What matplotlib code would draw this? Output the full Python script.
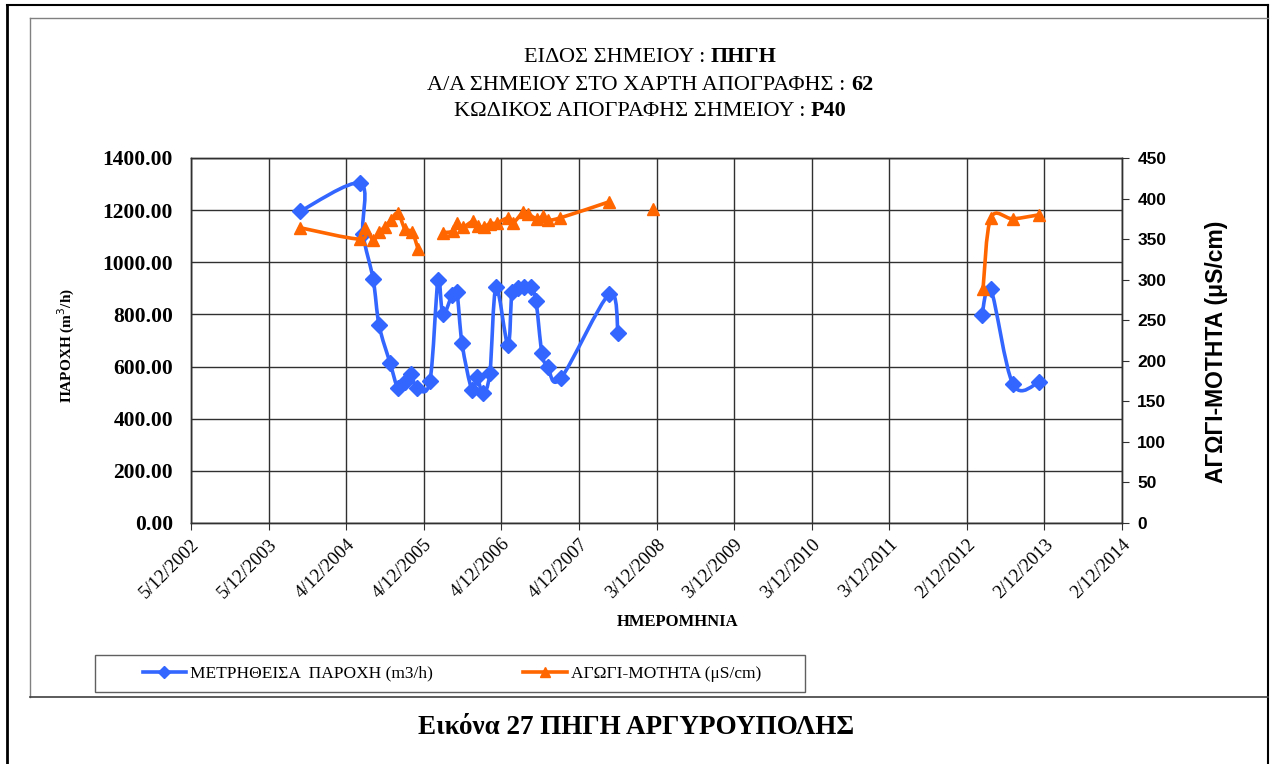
import numpy as np
import matplotlib
matplotlib.use("Agg")
import matplotlib.pyplot as plt
import matplotlib.dates as mdates
from matplotlib.path import Path
from matplotlib.patches import PathPatch, Rectangle
from matplotlib.lines import Line2D
from datetime import datetime

plt.rcParams['font.family'] = ['Liberation Serif', 'DejaVu Serif']

# flow (m3/h) - None breaks the line
flow_dates = ['2004-05-02', '2005-02-07', '2005-02-21', '2005-04-10', '2005-05-08',
              '2005-06-29', '2005-08-05', '2005-09-07', '2005-10-05', '2005-11-02',
              '2006-01-02', '2006-02-09', '2006-03-04', '2006-04-16', '2006-05-09',
              '2006-06-02', '2006-07-19', '2006-08-11', '2006-09-08', '2006-10-11',
              '2006-11-09', '2007-01-04', '2007-01-23', '2007-02-20', '2007-03-20',
              '2007-04-22', '2007-05-16', '2007-06-13', '2007-07-11', '2007-09-10',
              '2008-04-24', '2008-06-05', None,
              '2013-02-11', '2013-03-25', '2013-07-07', '2013-11-07']
flow = [1196, 1303, 1110, 935, 758,
        613, 517, 540, 570, 517,
        544, 931, 800, 873, 885,
        689, 509, 559, 498, 575,
        904, 682, 885, 900, 904,
        904, 850, 651, 598, 555,
        877, 728, None,
        797, 896, 532, 540]

# conductivity (uS/cm)
cond_dates = ['2004-05-02', '2005-02-07', '2005-03-03', '2005-04-10', '2005-05-08',
              '2005-06-05', '2005-07-03', '2005-08-05', '2005-09-07', '2005-10-10',
              '2005-11-07', None,
              '2006-03-04', '2006-04-21', '2006-05-09', '2006-06-07', '2006-07-24',
              '2006-08-16', '2006-09-13', '2006-10-11', '2006-11-13', '2007-01-04',
              '2007-01-28', '2007-03-16', '2007-04-08', '2007-05-21', '2007-06-18',
              '2007-07-11', '2007-09-05', '2008-04-24', None,
              '2008-11-17', None,
              '2013-02-16', '2013-03-25', '2013-07-07', '2013-11-07']
cond = [364, 350, 364, 349, 359,
        365, 374, 382, 362, 359,
        338, None,
        358, 360, 370, 365, 372,
        366, 365, 369, 370, 376,
        370, 383, 381, 375, 378,
        374, 376, 396, None,
        387, None,
        288, 376, 375, 380]

x_tick_labels = ['5/12/2002', '5/12/2003', '4/12/2004', '4/12/2005', '4/12/2006',
                 '4/12/2007', '3/12/2008', '3/12/2009', '3/12/2010', '3/12/2011',
                 '2/12/2012', '2/12/2013', '2/12/2014']
flow_ticks = [0, 200, 400, 600, 800, 1000, 1200, 1400]
cond_ticks = [0, 50, 100, 150, 200, 250, 300, 350, 400, 450]

title_lines = [('ΕΙΔΟΣ ΣΗΜΕΙΟΥ : ', 'ΠΗΓΗ'),
               ('Α/Α ΣΗΜΕΙΟΥ ΣΤΟ ΧΑΡΤΗ ΑΠΟΓΡΑΦΗΣ : ', '62'),
               ('ΚΩΔΙΚΟΣ ΑΠΟΓΡΑΦΗΣ ΣΗΜΕΙΟΥ : ', 'P40')]
flow_label = 'ΜΕΤΡΗΘΕΙΣΑ  ΠΑΡΟΧΗ (m3/h)'
cond_label = 'ΑΓΩΓΙ-ΜΟΤΗΤΑ (μS/cm)'
caption = 'Εικόνα 27 ΠΗΓΗ ΑΡΓΥΡΟΥΠΟΛΗΣ'

BLUE = '#3366FF'
ORANGE = '#FF6600'

W, H = 1272, 764


def fx(px):
    return px / W


def fy(py):
    return 1 - py / H


def segments(dates, vals):
    segs, cur = [], []
    for d, v in zip(dates, vals):
        if d is None or v is None:
            if cur:
                segs.append(cur)
            cur = []
        else:
            cur.append((mdates.date2num(datetime.strptime(d, '%Y-%m-%d')), v))
    if cur:
        segs.append(cur)
    return [np.array(s, dtype=float) for s in segs]


def smooth_path(p):
    # Excel-like smoothed line: Catmull-Rom turned into cubic Bezier pieces
    verts = [p[0]]
    codes = [Path.MOVETO]
    n = len(p)
    for i in range(n - 1):
        p0 = p[i - 1] if i > 0 else p[i]
        p3 = p[i + 2] if i + 2 < n else p[i + 1]
        c1 = p[i] + (p[i + 1] - p0) / 6.0
        c2 = p[i + 1] - (p3 - p[i]) / 6.0
        verts += [c1, c2, p[i + 1]]
        codes += [Path.CURVE4] * 3
    return Path(verts, codes)


def draw_series(ax, dates, vals, color, marker, ms):
    for s in segments(dates, vals):
        if len(s) > 1:
            ax.add_patch(PathPatch(smooth_path(s), facecolor='none', edgecolor=color,
                                   lw=2.6, zorder=3, capstyle='round', joinstyle='round'))
        ax.plot(s[:, 0], s[:, 1], linestyle='none', marker=marker, ms=ms,
                color=color, mec=color, zorder=4)


fig = plt.figure(figsize=(12.72, 7.64), dpi=100)

# page frame
for xs, ys, c, lw in [([7, 7], [5, 764], 'black', 2.0),
                      ([7, 1268], [5, 5], 'black', 1.5),
                      ([1268, 1268], [5, 764], 'black', 1.5),
                      ([30, 30], [18, 697], '#808080', 1.0),
                      ([30, 1268], [18, 18], '#808080', 1.0),
                      ([30, 1268], [697, 697], '#404040', 1.2)]:
    fig.add_artist(Line2D([fx(x) for x in xs], [fy(y) for y in ys],
                          transform=fig.transFigure, color=c, lw=lw))

ax = fig.add_axes([fx(191), fy(523), fx(1122 - 191), (523 - 158) / H])
ax2 = ax.twinx()

xt = [mdates.date2num(datetime.strptime(t, '%d/%m/%Y')) for t in x_tick_labels]
ax.set_xlim(xt[0], xt[-1])
ax.set_xticks(xt)
ax.set_xticklabels(x_tick_labels, rotation=45, ha='right', rotation_mode='anchor',
                   fontsize=13.5)
ax.set_ylim(0, 1400)
ax.set_yticks(flow_ticks)
ax.set_yticklabels(['%.2f' % v for v in flow_ticks], fontsize=15.5, fontweight='bold')
ax.grid(True, color='#303030', lw=1.0)
ax.set_axisbelow(True)
ax.tick_params(axis='x', length=5, color='#303030', pad=4)
ax.tick_params(axis='y', length=0, pad=13)

ax2.set_ylim(0, 450)
ax2.set_yticks(cond_ticks)
ax2.set_yticklabels([str(v) for v in cond_ticks], fontsize=12.5, fontweight='bold',
                    family=['Liberation Sans', 'DejaVu Sans'])
ax2.tick_params(axis='y', length=5, color='#303030', pad=6)

for a in (ax, ax2):
    for sp in a.spines.values():
        sp.set_color('#303030')
        sp.set_linewidth(1.0)

draw_series(ax, flow_dates, flow, BLUE, 'D', 8)
draw_series(ax2, cond_dates, cond, ORANGE, '^', 8.5)

ax.set_ylabel('ΠΑΡΟΧΗ (m$^3$/h)', fontsize=11, fontweight='bold')
ax.yaxis.set_label_coords((66 - 191) / (1122 - 191), (523 - 345) / (523 - 158))
ax.yaxis.label.set_va('center')
ax2.set_ylabel(cond_label, fontsize=16.5, fontweight='bold',
               family=['Liberation Sans', 'DejaVu Sans'])
ax2.yaxis.set_label_coords((1216 - 191) / (1122 - 191), (523 - 352) / (523 - 158))
ax2.yaxis.label.set_va('center')
ax.set_xlabel('ΗΜΕΡΟΜΗΝΙΑ', fontsize=12, fontweight='bold')
ax.xaxis.set_label_coords((678 - 191) / (1122 - 191), -(622 - 523) / (523 - 158))
ax.xaxis.label.set_va('center')

# title: label part regular, value bold, each line centred
rows = [57, 85, 111]
parts = []
for (lab, val), y0 in zip(title_lines, rows):
    t = fig.text(fx(650), fy(y0), lab, fontsize=16, ha='left', va='center')
    v = ax.annotate(val, xy=(1, 0.5), xycoords=t, ha='left', va='center',
                    fontsize=16, fontweight='bold')
    parts.append((t, v, y0))
fig.canvas.draw()
r = fig.canvas.get_renderer()
for t, v, y0 in parts:
    w = t.get_window_extent(r).width + v.get_window_extent(r).width
    t.set_position((fx(650 - w / 2), fy(y0)))

# legend box and entries
fig.add_artist(Rectangle((fx(95), fy(692)), fx(805 - 95), 37 / H, transform=fig.transFigure,
                         facecolor='white', edgecolor='#606060', lw=1.0))
handles = [Line2D([], [], color=BLUE, lw=2.6, marker='D', ms=6),
           Line2D([], [], color=ORANGE, lw=2.6, marker='^', ms=7)]
fig.legend(handles, [flow_label, cond_label], loc='center',
           bbox_to_anchor=(fx(452), fy(673.5)), ncol=2, frameon=False,
           prop={'size': 12.5}, handlelength=2.5, handletextpad=0.25,
           columnspacing=5.2, borderaxespad=0)

fig.text(0.5, fy(728), caption, fontsize=19.5, fontweight='bold', ha='center', va='center')

fig.savefig('out.png', dpi=100)
